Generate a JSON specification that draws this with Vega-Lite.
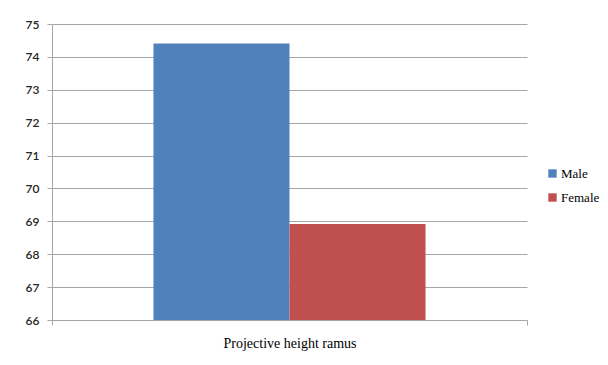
{
  "$schema": "https://vega.github.io/schema/vega-lite/v6.json",
  "width": 475,
  "height": 296,
  "autosize": {"type": "none"},
  "padding": {"left": 52, "top": 24, "right": 81, "bottom": 45},
  "background": "white",
  "data": {
    "values": [
      {"measure": "Projective height ramus", "sex": "Male", "value": 74.41},
      {"measure": "Projective height ramus", "sex": "Female", "value": 68.92}
    ]
  },
  "mark": {"type": "bar", "clip": true},
  "encoding": {
    "x": {
      "field": "measure",
      "type": "nominal",
      "scale": {"paddingInner": 0, "paddingOuter": 0},
      "axis": {
        "title": null,
        "labelAngle": 0,
        "labelFont": "Liberation Serif",
        "labelFontSize": 14,
        "labelColor": "#000000",
        "labelPadding": 11,
        "domainColor": "#a6a6a6",
        "tickColor": "#a6a6a6",
        "tickSize": 5,
        "tickBand": "extent"
      }
    },
    "xOffset": {
      "field": "sex",
      "type": "nominal",
      "sort": ["Male", "Female"],
      "scale": {"paddingInner": 0, "paddingOuter": 0.746}
    },
    "y": {
      "field": "value",
      "type": "quantitative",
      "scale": {"domain": [66, 75], "nice": false, "zero": false},
      "axis": {
        "title": null,
        "values": [66, 67, 68, 69, 70, 71, 72, 73, 74, 75],
        "grid": true,
        "gridColor": "#a6a6a6",
        "domainColor": "#a6a6a6",
        "tickColor": "#a6a6a6",
        "tickSize": 5,
        "labelFont": "Lato",
        "labelFontSize": 12,
        "labelFontWeight": 600,
        "labelColor": "#262626",
        "labelPadding": 8
      }
    },
    "color": {
      "field": "sex",
      "type": "nominal",
      "sort": ["Male", "Female"],
      "scale": {"domain": ["Male", "Female"], "range": ["#4F81BD", "#C0504D"]},
      "legend": {
        "title": null,
        "orient": "none",
        "legendX": 494,
        "legendY": 143,
        "symbolType": "square",
        "symbolSize": 70,
        "symbolStrokeWidth": 0,
        "labelFont": "Liberation Serif",
        "labelFontSize": 13,
        "labelColor": "#000000",
        "rowPadding": 10,
        "labelOffset": 2
      }
    }
  },
  "config": {"view": {"stroke": null}}
}
